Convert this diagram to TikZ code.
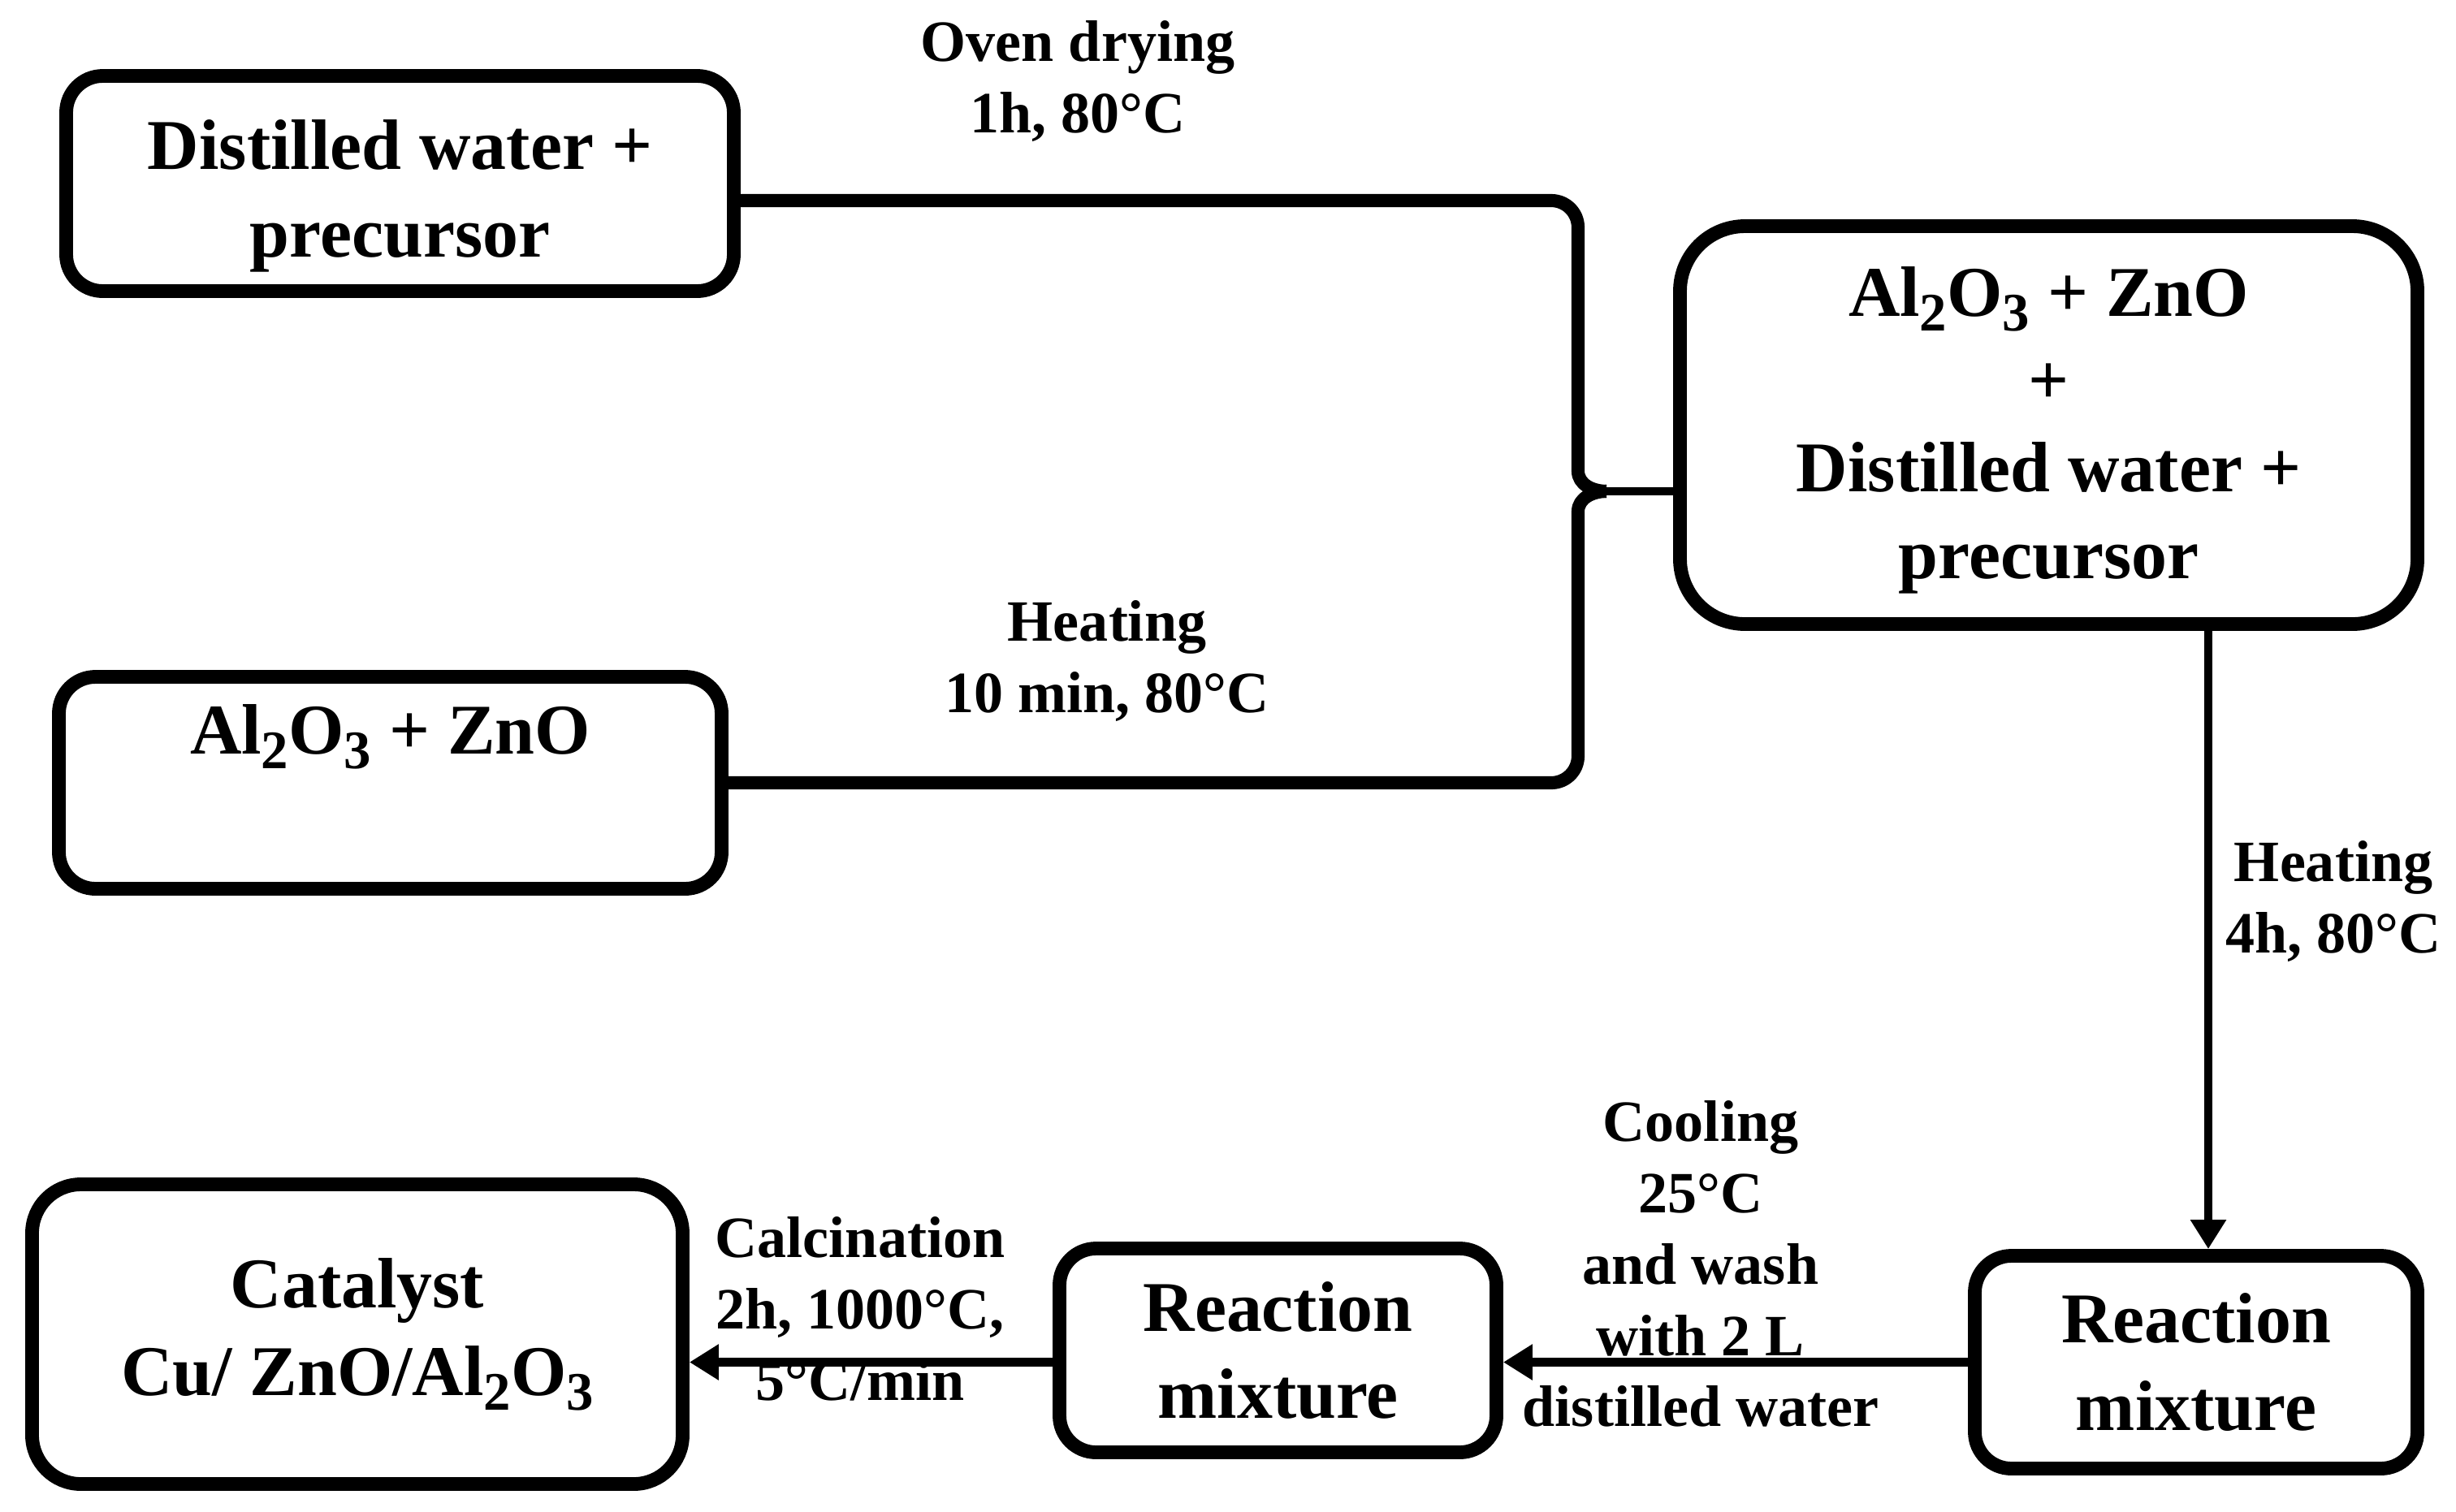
\documentclass[tikz,border=0pt]{standalone}
\usepackage{fontspec}
\setmainfont{Liberation Serif}
\usetikzlibrary{arrows.meta}

% lowered index as in the chemical formulas
\newcommand{\lowidx}[1]{\raisebox{-0.45ex}{\fontsize{19}{19}\selectfont #1}}

\begin{document}
\begin{tikzpicture}[
  box/.style={draw, line width=4.8pt, rounded corners=4.5mm, align=center, inner sep=0pt,
    font=\bfseries\fontsize{25}{30.7}\selectfont},
  lbl/.style={align=center, font=\bfseries\fontsize{20.5}{25}\selectfont},
  link/.style={line width=4.6pt, line join=round},
  arr/.style={line width=2.9pt, -{Triangle[length=3.6mm,width=4.2mm]}}
]

\useasboundingbox (0,0) rectangle (30.24,-18.61);

% Starting materials
\node[box, minimum width=8.22cm, minimum height=2.65cm] (water) at (4.925,-2.26) {\rule{0pt}{26pt}Distilled water +\\precursor};
\node[box, minimum width=8.16cm, minimum height=2.61cm] (oxides) at (4.805,-9.64) {Al\lowidx{2}O\lowidx{3} + ZnO\\[7pt]\mbox{}};

% Mixed solution
\node[box, rounded corners=8mm, minimum width=9.08cm, minimum height=4.9cm] (mix) at (25.225,-5.235) {\rule{0pt}{21pt}Al\lowidx{2}O\lowidx{3} + ZnO\\+\\Distilled water +\\precursor};

% Reaction mixtures
\node[box, minimum width=5.45cm, minimum height=2.62cm] (react1) at (27.04,-16.775) {Reaction\\mixture};
\node[box, minimum width=5.38cm, minimum height=2.51cm] (react2) at (15.735,-16.63) {Reaction\\mixture};

% Final catalyst
\node[box, rounded corners=6mm, minimum width=8.01cm, minimum height=3.69cm] (cat) at (4.4,-16.43) {Catalyst\\Cu/ ZnO/Al\lowidx{2}O\lowidx{3}};

% Brace joining both materials
\coordinate (tip) at (19.78,-6.05);
\draw[link] ([yshift=-2.1mm]water.east) -- (19.1,-2.47) to[out=0,in=90] (19.43,-2.8) -- (19.43,-5.8) to[out=-90,in=180] (tip);
\draw[link] (oxides.east) -- (19.1,-9.64) to[out=0,in=-90] (19.43,-9.31) -- (19.43,-6.3) to[out=90,in=180] (tip);
\draw[line width=3pt] (tip) -- (tip -| mix.west);

% Process arrows
\coordinate (down) at ([xshift=1.5mm]react1.north);
\draw[arr] (mix.south -| down) -- (down);
\draw[arr] (react1.west) -- (react1.west -| react2.east);
\draw[arr] (react2.west |- react1.west) -- (react1.west -| cat.east);

% Step conditions
\node[lbl] (oven) at (13.27,-1.0) {Oven drying\\1h, 80°C};
\node[lbl] (heat1) at (13.63,-8.14) {Heating\\10 min, 80°C};
\node[lbl] (heat2) at (28.73,-11.1) {Heating\\4h, 80°C};
\node[lbl] (cool) at (20.94,-15.565) {Cooling\\25°C\\and wash\\with 2 L\\distilled water};
\node[lbl] (calc) at (10.59,-16.12) {Calcination\\2h, 1000°C,\\5°C/min};

\end{tikzpicture}
\end{document}
